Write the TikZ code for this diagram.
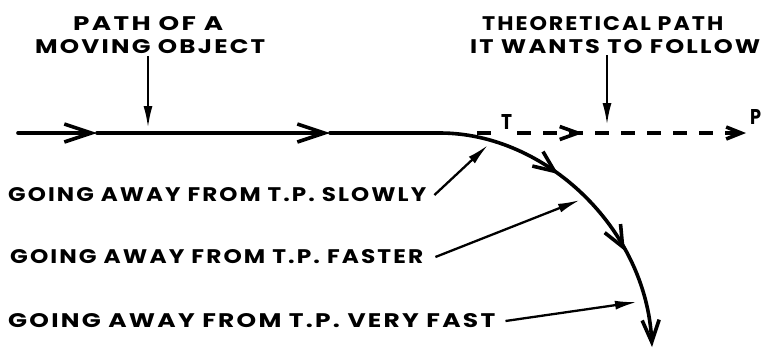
\documentclass[tikz,border=0pt]{standalone}
\usepackage{graphicx}
\usepackage{fontspec}
\usetikzlibrary{arrows.meta,decorations.markings}
\newfontfamily\hand{Poppins}[LetterSpace=9]
\newcommand{\fitlbl}[2]{\resizebox{#1}{14pt}{\hand\bfseries #2}}
\tikzset{
  lbl/.style={inner sep=0pt, anchor=west},
  mainline/.style={line width=3.6pt, line cap=round, line join=round},
  chevtip/.style={-{Straight Barb[length=27pt,width=18pt]}},
  pointer/.style={line width=2.3pt, -{Latex[length=22pt,width=9pt]}},
  dashline/.style={line width=3.6pt, dash pattern=on 14pt off 12pt},
}
\begin{document}
\begin{tikzpicture}[x=1pt,y=-1pt]
\useasboundingbox (0,0) rectangle (770,349);
% texts
\node[lbl] (t1) at (73,24) {\fitlbl{150pt}{PATH OF A}};
\node[lbl] (t2) at (35,46.5) {\fitlbl{230pt}{MOVING OBJECT}};
\node[lbl] (t3) at (482,24) {\fitlbl{241pt}{THEORETICAL PATH}};
\node[lbl] (t4) at (470,47) {\fitlbl{290pt}{IT WANTS TO FOLLOW}};
\node[lbl] (g1) at (8,195) {\fitlbl{418pt}{GOING AWAY FROM T.P. SLOWLY}};
\node[lbl] (g2) at (10,257) {\fitlbl{413pt}{GOING AWAY FROM T.P. FASTER}};
\node[lbl] (g3) at (8,321) {\fitlbl{487pt}{GOING AWAY FROM T.P. VERY FAST}};
\node[lbl] (T) at (501,122) {\resizebox{11pt}{15pt}{\hand\bfseries T}};
\node[lbl] (P) at (750,117) {\resizebox{11pt}{15pt}{\hand\bfseries P}};
% coordinates
\coordinate (s) at (18,133);
\coordinate (c1) at (97,133);
\coordinate (c2) at (330,133);
\coordinate (b) at (440,133);
\coordinate (e) at (652,347);
\coordinate (d0) at (477,133);
\coordinate (d1) at (491,133);
\coordinate (d2) at (517,133);
\coordinate (dc0) at (569,133);
\coordinate (dc) at (583,133);
\coordinate (pe) at (746,133);
% moving path
\draw[mainline, chevtip] (s) -- (c1);
\draw[mainline, chevtip] (c1) -- (c2);
\draw[mainline] (c2) -- (b);
\draw[mainline, -{Straight Barb[length=22pt,width=17pt]},
  postaction={decorate},
  decoration={markings,
    mark=at position 0.385 with {\arrow[line width=3.6pt]{Straight Barb[length=21pt,width=18pt]}},
    mark=at position 0.695 with {\arrow[line width=3.6pt]{Straight Barb[length=21pt,width=18pt]}}}]
  (b) .. controls (545,133) and (646,228) .. (e);
% theoretical path
\draw[dashline] (d0) -- (d1);
\draw[dashline, -{Straight Barb[length=15pt,width=12pt]}] (d2) -- (pe);
\draw[line width=3.6pt, -{Straight Barb[length=18pt,width=13pt]}] (dc0) -- (dc);
% pointers
\coordinate (a1s) at (148,56);
\coordinate (a1e) at (148,128);
\coordinate (a2s) at (607,55);
\coordinate (a2e) at (607,125);
\coordinate (p1e) at (488,145);
\coordinate (p2e) at (580,200);
\coordinate (p3e) at (637,302);
\draw[pointer] (a1s) -- (a1e);
\draw[pointer] (a2s) -- (a2e);
\draw[pointer] ([xshift=8pt]g1.east) -- (p1e);
\draw[pointer] ([xshift=12pt]g2.east) -- (p2e);
\draw[pointer] ([xshift=10pt]g3.east) -- (p3e);
\end{tikzpicture}
\end{document}
